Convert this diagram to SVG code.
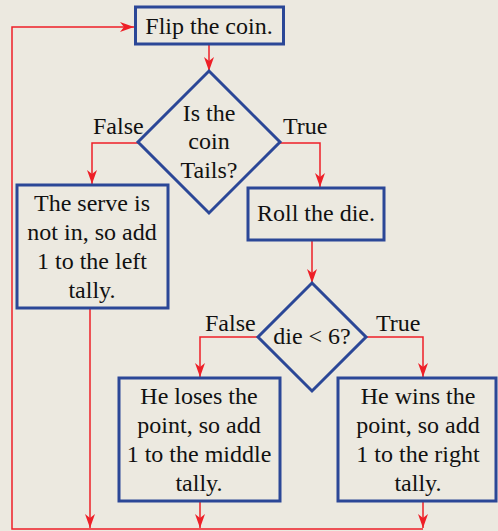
<svg xmlns="http://www.w3.org/2000/svg" width="498" height="531" viewBox="0 0 498 531">
<defs>
<style>
.bg{fill:#ece9e0}
.box{fill:none;stroke:#2b4797;stroke-width:3}
.ln{fill:none;stroke:#ee1f27;stroke-width:1.5}
.t{font-family:"Liberation Serif","Times New Roman",serif;font-size:24px;fill:#111;text-anchor:middle}
.lbl{font-family:"Liberation Serif","Times New Roman",serif;font-size:24px;fill:#111}
</style>
<marker id="ah" viewBox="0 0 14 10" refX="14" refY="5" markerWidth="14" markerHeight="10" markerUnits="userSpaceOnUse" orient="auto">
<path d="M0,0 L14,5 L0,10 L4,5 Z" fill="#ee1f27"/>
</marker>
</defs>
<rect class="bg" x="0" y="0" width="498" height="531"/>
<g id="connectors">
<path class="ln" d="M209,44 V71" marker-end="url(#ah)"/>
<path class="ln" d="M139,143 H92 V184" marker-end="url(#ah)"/>
<path class="ln" d="M280,143 H320 V187" marker-end="url(#ah)"/>
<path class="ln" d="M312,240 V283" marker-end="url(#ah)"/>
<path class="ln" d="M257,337 H200 V377" marker-end="url(#ah)"/>
<path class="ln" d="M366,337 H423 V377" marker-end="url(#ah)"/>
<path class="ln" d="M90,309 V528" marker-end="url(#ah)"/>
<path class="ln" d="M200,502 V528" marker-end="url(#ah)"/>
<path class="ln" d="M423,502 V528" marker-end="url(#ah)"/>
<path class="ln" d="M423,529 H12 V27 H134" marker-end="url(#ah)"/>
<text class="lbl" x="93" y="134">False</text>
<text class="lbl" x="283" y="134">True</text>
<text class="lbl" x="205" y="331">False</text>
<text class="lbl" x="376" y="331">True</text>
</g>
<g id="flip">
<rect class="box" x="135.5" y="7" width="148" height="37"/>
<text class="t" x="209" y="34">Flip the coin.</text>
</g>
<g id="tails">
<path class="box" d="M209,71 L280,142 L209,213 L138,142 Z"/>
<text class="t" x="209" y="121">Is the</text>
<text class="t" x="209" y="149">coin</text>
<text class="t" x="209" y="178">Tails?</text>
</g>
<g id="roll">
<rect class="box" x="248" y="188" width="136" height="52"/>
<text class="t" x="316" y="221">Roll the die.</text>
</g>
<g id="left">
<rect class="box" x="17" y="185" width="151" height="123"/>
<text class="t" x="92" y="211">The serve is</text>
<text class="t" x="92" y="240">not in, so add</text>
<text class="t" x="92" y="269">1 to the left</text>
<text class="t" x="92" y="298">tally.</text>
</g>
<g id="die">
<path class="box" d="M312,283 L366,337 L312,391 L258,337 Z"/>
<text class="t" x="312" y="344">die &lt; 6?</text>
</g>
<g id="middle">
<rect class="box" x="119" y="378" width="161" height="123"/>
<text class="t" x="199" y="404">He loses the</text>
<text class="t" x="199" y="433">point, so add</text>
<text class="t" x="199" y="462">1 to the middle</text>
<text class="t" x="199" y="491">tally.</text>
</g>
<g id="right">
<rect class="box" x="338" y="378" width="158" height="123"/>
<text class="t" x="418" y="404">He wins the</text>
<text class="t" x="418" y="433">point, so add</text>
<text class="t" x="418" y="462">1 to the right</text>
<text class="t" x="418" y="491">tally.</text>
</g>
</svg>
